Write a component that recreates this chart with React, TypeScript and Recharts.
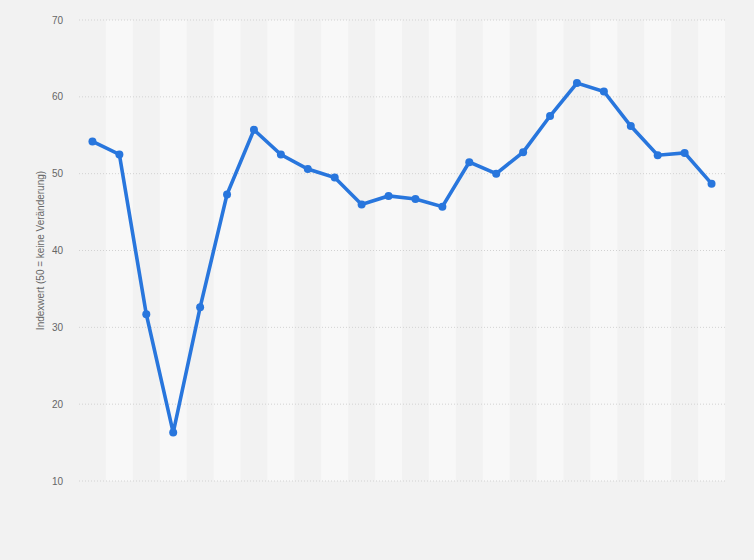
import { LineChart, Line, XAxis, YAxis, ReferenceArea, ReferenceLine, Label } from "recharts";

// 24 Perioden, keine Achsenbeschriftung im Original
const PERIODEN = [
  "P1", "P2", "P3", "P4", "P5", "P6", "P7", "P8", "P9", "P10", "P11", "P12",
  "P13", "P14", "P15", "P16", "P17", "P18", "P19", "P20", "P21", "P22", "P23", "P24",
];
const INDEXWERT = [
  54.2, 52.5, 31.7, 16.3, 32.6, 47.3, 55.7, 52.5, 50.6, 49.5, 46.0, 47.1,
  46.7, 45.7, 51.5, 50.0, 52.8, 57.5, 61.8, 60.7, 56.2, 52.4, 52.7, 48.7,
];
const Y_TICKS = [10, 20, 30, 40, 50, 60, 70];

const DATA = PERIODEN.map((name, i) => ({ name, wert: INDEXWERT[i] }));

const BG = "#f2f2f2";
const BAND = "#f8f8f8";
const BLUE = "#2876dd";
const FONT = "'Liberation Sans', Arial, sans-serif";

export default function App() {
  return (
    <div style={{ position: "absolute", left: 0, top: 0, width: 754, height: 560, background: BG }}>
      <LineChart
        width={754}
        height={560}
        data={DATA}
        margin={{ top: 20, right: 29, bottom: 79, left: 0 }}
      >
        {PERIODEN.map((p, i) =>
          i % 2 === 1 ? (
            <ReferenceArea key={p} x1={p} x2={p} fill={BAND} fillOpacity={1} stroke="none" ifOverflow="visible" />
          ) : null
        )}
        {Y_TICKS.map((t) => (
          <ReferenceLine key={t} y={t} stroke="#d2d2d2" strokeDasharray="1 2" />
        ))}
        <XAxis dataKey="name" scale="band" hide />
        <YAxis
          domain={[10, 70]}
          ticks={Y_TICKS}
          width={79}
          axisLine={false}
          tickLine={false}
          tickSize={0}
          tickMargin={16}
          tick={{ fill: "#666", fontSize: 10, fontFamily: FONT }}
        >
          <Label
            value="Indexwert (50 = keine Veränderung)"
            angle={-90}
            position="insideLeft"
            offset={40}
            style={{ textAnchor: "middle", fill: "#666", fontSize: 10, fontFamily: FONT }}
          />
        </YAxis>
        <Line
          type="linear"
          dataKey="wert"
          stroke={BLUE}
          strokeWidth={3.6}
          dot={{ r: 4, fill: BLUE, stroke: BLUE, strokeWidth: 0 }}
          activeDot={false}
          isAnimationActive={false}
        />
      </LineChart>
    </div>
  );
}
